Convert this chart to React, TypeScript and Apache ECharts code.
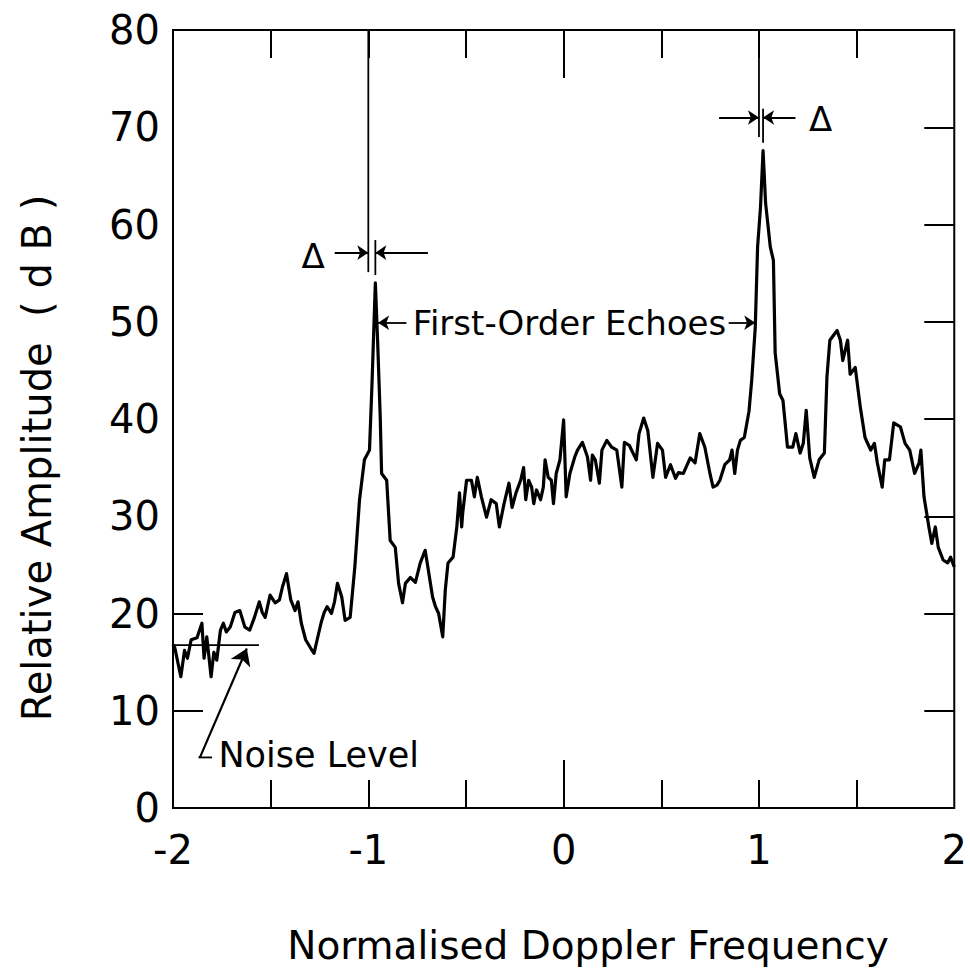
import React, { useEffect, useRef } from "react";
import * as echarts from "echarts";

// Normalised Doppler frequency (x) and relative amplitude in dB (y) of the traced spectrum
const freqs = [
  -2.0, -1.991, -1.96, -1.941, -1.926, -1.907, -1.877, -1.852, -1.841, -1.827, -1.805, -1.791, -1.776,
  -1.757, -1.742, -1.727, -1.707, -1.683, -1.658, -1.632, -1.607, -1.583, -1.558, -1.543, -1.528, -1.503,
  -1.477, -1.455, -1.44, -1.419, -1.397, -1.375, -1.36, -1.343, -1.321, -1.294, -1.278, -1.262, -1.241,
  -1.226, -1.211, -1.189, -1.173, -1.158, -1.136, -1.119, -1.093, -1.069, -1.045, -1.02, -0.994, -0.981,
  -0.964, -0.952, -0.939, -0.932, -0.906, -0.888, -0.862, -0.845, -0.825, -0.81, -0.785, -0.759, -0.734,
  -0.709, -0.693, -0.671, -0.656, -0.64, -0.619, -0.606, -0.592, -0.566, -0.547, -0.533, -0.522, -0.517,
  -0.497, -0.472, -0.457, -0.442, -0.421, -0.395, -0.371, -0.345, -0.329, -0.305, -0.28, -0.264, -0.244,
  -0.22, -0.205, -0.194, -0.179, -0.164, -0.153, -0.139, -0.118, -0.104, -0.095, -0.079, -0.063, -0.052,
  -0.038, -0.019, 0.0, 0.013, 0.032, 0.057, 0.071, 0.096, 0.122, 0.138, 0.147, 0.162, 0.183, 0.196, 0.221,
  0.246, 0.272, 0.298, 0.311, 0.336, 0.372, 0.386, 0.41, 0.431, 0.457, 0.481, 0.506, 0.522, 0.547, 0.573,
  0.588, 0.613, 0.648, 0.673, 0.697, 0.723, 0.749, 0.765, 0.785, 0.8, 0.825, 0.85, 0.862, 0.876, 0.89,
  0.905, 0.925, 0.949, 0.963, 0.981, 0.993, 1.008, 1.021, 1.034, 1.058, 1.074, 1.083, 1.106, 1.123, 1.146,
  1.173, 1.189, 1.211, 1.227, 1.242, 1.26, 1.283, 1.308, 1.335, 1.348, 1.363, 1.4, 1.417, 1.429, 1.454,
  1.467, 1.493, 1.519, 1.543, 1.572, 1.591, 1.606, 1.631, 1.644, 1.668, 1.69, 1.724, 1.748, 1.772, 1.797,
  1.82, 1.829, 1.845, 1.87, 1.885, 1.903, 1.918, 1.943, 1.966, 1.981, 2.0,
];
const amps = [
  16.8, 16.5, 13.5, 16.2, 15.4, 17.3, 17.5, 19.0, 15.4, 17.6, 13.5, 16.0, 15.2,
  18.3, 19.0, 18.1, 18.6, 20.1, 20.3, 18.6, 18.3, 19.6, 21.2, 20.1, 19.6, 21.9,
  21.1, 21.4, 22.7, 24.1, 21.4, 20.3, 21.2, 19.0, 17.3, 16.4, 15.9, 17.3, 19.1,
  20.1, 20.7, 20.0, 21.2, 23.1, 21.7, 19.3, 19.6, 24.8, 31.7, 35.8, 36.8, 43.7,
  54.0, 47.8, 40.2, 34.4, 33.7, 27.5, 26.8, 23.1, 21.1, 23.1, 23.7, 23.2, 25.2,
  26.5, 24.5, 21.7, 20.7, 20.0, 17.6, 22.4, 25.2, 25.8, 28.9, 32.4, 28.9, 30.3,
  33.7, 33.7, 32.0, 34.0, 32.0, 29.9, 31.7, 31.3, 28.9, 31.3, 33.4, 30.9, 32.4,
  33.7, 35.0, 31.7, 33.7, 33.0, 31.3, 32.7, 31.7, 33.0, 35.8, 34.0, 33.7, 31.3,
  34.4, 35.8, 39.9, 32.0, 34.4, 36.1, 36.8, 37.6, 36.1, 33.7, 36.3, 35.8, 33.4, 36.8, 37.8,
  37.1, 36.8, 33.0, 37.6, 37.3, 35.8, 38.5, 40.1, 38.8, 34.0, 37.5, 36.8, 34.0, 35.3, 33.9,
  34.5, 34.4, 36.0, 35.5, 38.5, 37.1, 34.4, 33.0, 33.2, 33.7, 35.3, 35.8, 36.8, 34.4, 36.8,
  37.8, 38.1, 40.8, 44.0, 49.4, 57.7, 61.8, 67.6, 62.2, 57.7, 56.3, 46.8, 42.6, 41.9, 37.1,
  37.1, 38.5, 36.5, 37.5, 40.9, 36.0, 34.0, 35.8, 36.5, 44.3, 48.1, 49.1, 48.1, 46.0, 48.1,
  44.6, 45.3, 41.2, 38.1, 36.8, 37.5, 35.5, 33.0, 35.8, 35.8, 39.6, 39.2, 37.5, 36.8, 34.4,
  35.5, 36.8, 32.0, 28.9, 27.2, 28.9, 26.8, 25.5, 25.2, 25.8, 24.8,
];

// Axis ticks / labels
const xTickLabels = [-2, -1, 0, 1, 2];
const xShortTicks = [-1.5, -1, -0.5, 0.5, 1, 1.5];
const xLongTicks = [0];
const yLeftTickValues = [10, 20];
const yRightTickValues = [10, 20, 30, 40, 50, 60, 70];

// Annotation guide lines [[x1,y1],[x2,y2]]
const guideSegments = [
  [[-1.0, 80], [-1.0, 55.1]],
  [[-0.964, 58.4], [-0.964, 54.8]],
  [[1.0, 80], [1.0, 69.0]],
  [[1.021, 71.9], [1.021, 68.4]],
  [[-2.0, 16.75], [-1.56, 16.75]],
  [[-1.8, 5.2], [-1.87, 5.2]],
];
// Small arrows (tail -> head)
const smallArrows = [
  [[-1.172, 57.1], [-1.0, 57.1]],
  [[-0.695, 57.1], [-0.964, 57.1]],
  [[0.796, 71.0], [1.0, 71.0]],
  [[1.187, 71.0], [1.021, 71.0]],
  [[-0.805, 49.9], [-0.95, 49.9]],
  [[0.845, 49.9], [0.981, 49.9]],
];
const noiseArrow = [[-1.862, 5.2], [-1.622, 16.4]];
// Text annotations
const centredTexts = [
  { name: "Δ", x: -1.283, y: 56.8 },
  { name: "Δ", x: 1.316, y: 70.8 },
  { name: "First-Order Echoes", x: 0.03, y: 49.9 },
];
const noiseText = { name: "Noise Level", x: -1.77, y: 5.5 };

const FONT = "DejaVu Sans";

export default function App() {
  const ref = useRef<HTMLDivElement>(null);
  useEffect(() => {
    if (!ref.current) return;
    const chart = echarts.init(ref.current, undefined, { renderer: "svg" });
    const black = "#000";
    const tickStyle = { color: black, width: 2 };
    const baseX = {
      type: "value",
      min: -2,
      max: 2,
      interval: 0.5,
      axisLine: { show: false, onZero: false },
      splitLine: { show: false },
    };
    const baseY = {
      type: "value",
      min: 0,
      max: 80,
      interval: 10,
      axisLine: { show: false, onZero: false },
      splitLine: { show: false },
    };
    const spectrum = freqs.map((f, i) => [f, amps[i]]);
    const option: any = {
      animation: false,
      backgroundColor: "#fff",
      grid: {
        left: 173,
        right: 10,
        top: 30,
        bottom: 171,
        show: true,
        borderColor: black,
        borderWidth: 2,
        backgroundColor: "transparent",
      },
      xAxis: [
        {
          ...baseX,
          position: "bottom",
          axisTick: { show: true, inside: true, length: 28, lineStyle: tickStyle, customValues: xShortTicks },
          axisLabel: {
            show: true,
            color: black,
            fontFamily: FONT,
            fontSize: 40,
            margin: 22,
            formatter: (v: number) => (xTickLabels.includes(v) ? String(v) : ""),
          },
        },
        {
          ...baseX,
          position: "top",
          axisTick: { show: true, inside: true, length: 28, lineStyle: tickStyle, customValues: xShortTicks },
          axisLabel: { show: false },
        },
        {
          ...baseX,
          position: "bottom",
          axisTick: { show: true, inside: true, length: 48, lineStyle: tickStyle, customValues: xLongTicks },
          axisLabel: { show: false },
        },
        {
          ...baseX,
          position: "top",
          axisTick: { show: true, inside: true, length: 48, lineStyle: tickStyle, customValues: xLongTicks },
          axisLabel: { show: false },
        },
      ],
      yAxis: [
        {
          ...baseY,
          position: "left",
          axisTick: { show: true, inside: true, length: 30, lineStyle: tickStyle, customValues: yLeftTickValues },
          axisLabel: { color: black, fontFamily: FONT, fontSize: 40, margin: 13 },
        },
        {
          ...baseY,
          position: "right",
          axisTick: { show: true, inside: true, length: 30, lineStyle: tickStyle, customValues: yRightTickValues },
          axisLabel: { show: false },
        },
      ],
      graphic: [
        {
          type: "text",
          x: 588,
          y: 945,
          style: {
            text: "Normalised Doppler Frequency",
            font: `39px "${FONT}"`,
            fill: black,
            textAlign: "center",
            textVerticalAlign: "middle",
          },
        },
        {
          type: "text",
          x: 37,
          y: 458,
          rotation: Math.PI / 2,
          style: {
            text: "Relative Amplitude  ( d B )",
            font: `40px "${FONT}"`,
            fill: black,
            textAlign: "center",
            textVerticalAlign: "middle",
          },
        },
      ],
      series: [
        {
          name: "spectrum",
          type: "line",
          data: spectrum,
          symbol: "none",
          showSymbol: false,
          lineStyle: { color: black, width: 3.2, join: "round" },
          z: 5,
        },
        ...guideSegments.map((seg, i) => ({
          name: "guide" + i,
          type: "line",
          data: seg,
          symbol: "none",
          showSymbol: false,
          lineStyle: { color: black, width: 1.8 },
          z: 4,
        })),
        {
          name: "arrows",
          type: "lines",
          coordinateSystem: "cartesian2d",
          symbol: ["none", "arrow"],
          symbolSize: [0, 11],
          lineStyle: { color: black, width: 1.8, opacity: 1 },
          data: smallArrows.map((c) => ({ coords: c })),
          z: 4,
        },
        {
          name: "noiseArrow",
          type: "lines",
          coordinateSystem: "cartesian2d",
          symbol: ["none", "arrow"],
          symbolSize: [0, 16],
          lineStyle: { color: black, width: 2.2, opacity: 1 },
          data: [{ coords: noiseArrow }],
          z: 4,
        },
        {
          name: "labels",
          type: "scatter",
          symbolSize: 1,
          itemStyle: { color: "rgba(0,0,0,0)" },
          data: centredTexts.map((t) => ({ name: t.name, value: [t.x, t.y] })),
          label: {
            show: true,
            position: "inside",
            formatter: (p: any) => p.name,
            color: black,
            opacity: 1,
            textBorderWidth: 0,
            fontFamily: FONT,
            fontSize: 34,
            backgroundColor: "#fff",
          },
          z: 6,
        },
        {
          name: "noiseLabel",
          type: "scatter",
          symbolSize: 1,
          itemStyle: { color: "rgba(0,0,0,0)" },
          data: [{ name: noiseText.name, value: [noiseText.x, noiseText.y] }],
          label: {
            show: true,
            position: "right",
            distance: 0,
            formatter: (p: any) => p.name,
            color: black,
            opacity: 1,
            textBorderWidth: 0,
            fontFamily: FONT,
            fontSize: 35,
          },
          z: 6,
        },
      ],
    };
    chart.setOption(option);
    return () => chart.dispose();
  }, []);
  return (
    <div
      ref={ref}
      style={{ position: "fixed", left: 0, top: 0, width: 970, height: 979 }}
    />
  );
}
